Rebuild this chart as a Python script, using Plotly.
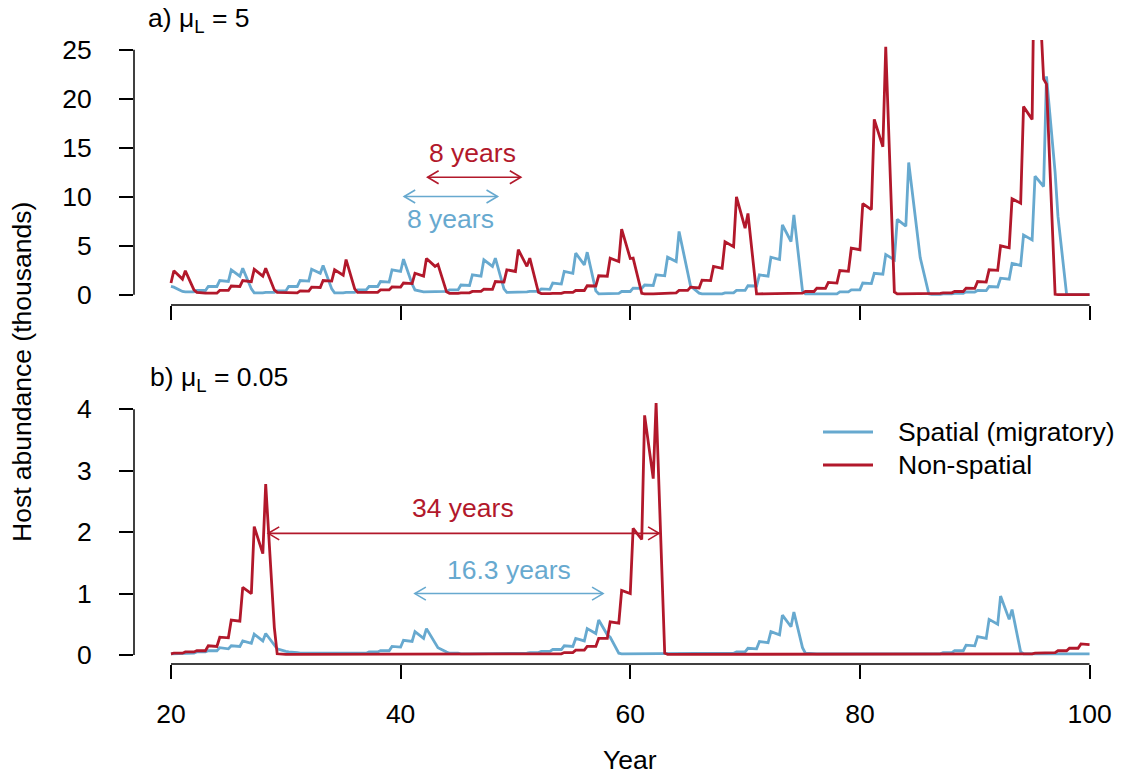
import plotly.graph_objects as go

# ---------------- data ----------------
# seasons (years); each season holds two samples: just after the
# reproduction pulse (year + PEAK_PHASE) and at the end of the year (year + 1)
years = list(range(20, 100))
PEAK_PHASE = 0.25
START_YEAR = 20.0

# panel a (mu_L = 5), thousands of hosts
red_a_init = 1.2
red_a = [
    (2.45, 1.6), (2.45, 0.5), (0.25, 0.17), (0.17, 0.17), (0.45, 0.45),
    (0.9, 0.85), (1.46, 1.35), (2.6, 1.9), (2.7, 0.5), (0.25, 0.2),
    (0.2, 0.2), (0.4, 0.38), (0.78, 0.75), (1.46, 1.4), (2.55, 2.0),
    (3.6, 0.6), (0.25, 0.2), (0.25, 0.25), (0.5, 0.5), (0.8, 0.78),
    (1.2, 1.15), (2.2, 1.9), (3.7, 2.9), (3.1, 0.3), (0.15, 0.15),
    (0.2, 0.2), (0.35, 0.35), (0.58, 0.55), (1.36, 1.3), (2.55, 2.38),
    (4.6, 2.9), (3.74, 0.25), (0.12, 0.12), (0.15, 0.15), (0.25, 0.25),
    (0.44, 0.44), (0.92, 0.9), (1.94, 1.9), (3.74, 3.4), (6.7, 3.7),
    (3.74, 0.15), (0.1, 0.1), (0.12, 0.12), (0.2, 0.2), (0.45, 0.45),
    (0.78, 0.7), (1.5, 1.45), (2.9, 2.7), (5.4, 4.9), (10.0, 6.8),
    (8.3, 0.1), (0.1, 0.1), (0.1, 0.1), (0.12, 0.12), (0.17, 0.17),
    (0.34, 0.34), (0.68, 0.65), (1.26, 1.2), (2.48, 2.4), (4.76, 4.6),
    (9.3, 8.7), (17.9, 15.1), (25.3, 0.3), (0.1, 0.1), (0.1, 0.1),
    (0.12, 0.12), (0.15, 0.15), (0.2, 0.2), (0.34, 0.34), (0.68, 0.65),
    (1.36, 1.3), (2.55, 2.5), (5.0, 4.8), (9.8, 9.35), (19.2, 17.9),
    (40.0, 22.0), (21.5, 0.05), (0.02, 0.02), (0.02, 0.02), (0.02, 0.02),
]
blue_a_init = 0.85
blue_a = [
    (0.78, 0.34), (0.3, 0.3), (0.44, 0.44), (0.85, 0.85), (1.46, 1.36),
    (2.55, 1.9), (2.7, 0.6), (0.2, 0.2), (0.25, 0.25), (0.4, 0.4),
    (0.85, 0.85), (1.46, 1.4), (2.6, 2.2), (3.0, 0.6), (0.2, 0.2),
    (0.25, 0.25), (0.5, 0.5), (0.85, 0.85), (1.36, 1.3), (2.55, 2.38),
    (3.64, 1.1), (0.5, 0.3), (0.3, 0.3), (0.35, 0.35), (0.5, 0.5),
    (1.0, 0.95), (2.04, 1.9), (3.57, 2.9), (3.74, 0.6), (0.25, 0.25),
    (0.3, 0.3), (0.35, 0.35), (0.6, 0.55), (1.2, 1.1), (2.38, 2.2),
    (4.25, 3.06), (4.35, 0.4), (0.1, 0.1), (0.15, 0.15), (0.34, 0.34),
    (0.68, 0.65), (1.0, 0.95), (2.04, 1.94), (3.84, 3.4), (6.46, 2.2),
    (0.9, 0.17), (0.1, 0.1), (0.1, 0.1), (0.2, 0.2), (0.45, 0.45),
    (0.92, 0.9), (2.04, 1.9), (3.84, 3.6), (7.14, 5.44), (8.16, 0.4),
    (0.1, 0.1), (0.05, 0.05), (0.1, 0.1), (0.3, 0.3), (0.5, 0.5),
    (1.2, 1.15), (2.2, 2.1), (4.1, 3.57), (7.7, 7.0), (13.5, 6.6),
    (3.8, 0.1), (0.05, 0.05), (0.1, 0.1), (0.15, 0.15), (0.3, 0.28),
    (0.44, 0.42), (0.85, 0.8), (1.7, 1.6), (3.2, 3.0), (6.1, 5.6),
    (12.1, 11.05), (22.3, 12.5), (8.0, 0.05), (0.02, 0.02), (0.02, 0.02),
]

# panel b (mu_L = 0.05)
red_b_init = 0.02
red_b = [
    (0.03, 0.03), (0.05, 0.05), (0.07, 0.07), (0.15, 0.14), (0.29, 0.28),
    (0.57, 0.55), (1.1, 1.0), (2.09, 1.65), (2.78, 0.45), (0.02, 0.01),
    (0.01, 0.01), (0.01, 0.01), (0.01, 0.01), (0.01, 0.01), (0.01, 0.01),
    (0.01, 0.01), (0.01, 0.01), (0.01, 0.01), (0.01, 0.01), (0.01, 0.01),
    (0.01, 0.01), (0.01, 0.01), (0.01, 0.01), (0.01, 0.01), (0.01, 0.01),
    (0.01, 0.01), (0.01, 0.01), (0.01, 0.01), (0.01, 0.01), (0.01, 0.01),
    (0.01, 0.01), (0.01, 0.01), (0.01, 0.01), (0.02, 0.02), (0.04, 0.04),
    (0.08, 0.08), (0.14, 0.14), (0.27, 0.27), (0.54, 0.52), (1.05, 1.0),
    (2.06, 1.88), (3.9, 2.87), (4.1, 0.03), (0.01, 0.01), (0.01, 0.01),
    (0.01, 0.01), (0.01, 0.01), (0.01, 0.01), (0.01, 0.01), (0.01, 0.01),
    (0.01, 0.01), (0.01, 0.01), (0.01, 0.01), (0.01, 0.01), (0.01, 0.01),
    (0.01, 0.01), (0.01, 0.01), (0.01, 0.01), (0.01, 0.01), (0.01, 0.01),
    (0.01, 0.01), (0.01, 0.01), (0.01, 0.01), (0.01, 0.01), (0.01, 0.01),
    (0.01, 0.01), (0.01, 0.01), (0.01, 0.01), (0.01, 0.01), (0.01, 0.01),
    (0.01, 0.01), (0.01, 0.01), (0.01, 0.01), (0.01, 0.01), (0.02, 0.02),
    (0.03, 0.03), (0.04, 0.04), (0.07, 0.07), (0.11, 0.11), (0.18, 0.17),
]
blue_b_init = 0.02
blue_b = [
    (0.02, 0.02), (0.03, 0.03), (0.05, 0.05), (0.07, 0.07), (0.12, 0.1),
    (0.15, 0.14), (0.23, 0.19), (0.34, 0.23), (0.35, 0.16), (0.1, 0.06),
    (0.05, 0.04), (0.03, 0.03), (0.03, 0.03), (0.03, 0.03), (0.03, 0.03),
    (0.03, 0.03), (0.03, 0.03), (0.05, 0.05), (0.07, 0.07), (0.14, 0.13),
    (0.24, 0.22), (0.38, 0.27), (0.43, 0.19), (0.12, 0.05), (0.03, 0.03),
    (0.02, 0.02), (0.02, 0.02), (0.02, 0.02), (0.02, 0.02), (0.03, 0.03),
    (0.03, 0.03), (0.04, 0.04), (0.06, 0.06), (0.09, 0.09), (0.15, 0.14),
    (0.27, 0.23), (0.43, 0.35), (0.57, 0.33), (0.29, 0.03), (0.02, 0.02),
    (0.02, 0.02), (0.02, 0.02), (0.02, 0.02), (0.02, 0.02), (0.02, 0.02),
    (0.02, 0.02), (0.02, 0.02), (0.02, 0.02), (0.03, 0.03), (0.05, 0.05),
    (0.11, 0.1), (0.22, 0.2), (0.38, 0.33), (0.65, 0.46), (0.7, 0.12),
    (0.03, 0.02), (0.02, 0.02), (0.02, 0.02), (0.02, 0.02), (0.02, 0.02),
    (0.02, 0.02), (0.02, 0.02), (0.02, 0.02), (0.02, 0.02), (0.02, 0.02),
    (0.02, 0.02), (0.02, 0.02), (0.04, 0.04), (0.07, 0.07), (0.16, 0.15),
    (0.3, 0.27), (0.58, 0.5), (0.96, 0.58), (0.74, 0.05), (0.02, 0.02),
    (0.02, 0.02), (0.02, 0.02), (0.02, 0.02), (0.02, 0.02), (0.02, 0.02),
]

# period annotations: (series, from year, to year, height, label, label year, label height)
arrows_a = [
    ("red", 42.35, 50.47, 12.0, "8 years", 46.3, 14.45),
    ("blue", 40.31, 48.44, 10.03, "8 years", 44.33, 7.7),
]
arrows_b = [
    ("red", 28.47, 62.51, 1.98, "34 years", 45.45, 2.39),
    ("blue", 41.24, 57.63, 1.0, "16.3 years", 49.44, 1.38),
]

x_ticks = [20, 40, 60, 80, 100]
y_ticks_a = [0, 5, 10, 15, 20, 25]
y_ticks_b = [0, 1, 2, 3, 4]

series_names = {"blue": "Spatial (migratory)", "red": "Non-spatial"}

# ---------------- style ----------------
W, H = 1124, 775
COL = {"red": "#B2182B", "blue": "#67A9CF"}
FONT = "Liberation Sans, Arial, Helvetica, sans-serif"
FS = 26.5
LW = 2.8


def build(init, pairs):
    t, v = [START_YEAR], [init]
    for y, (s, e) in zip(years, pairs):
        t += [y + PEAK_PHASE, y + 1]
        v += [s, e]
    return t, v


def px_x(px):
    return px / W


def py_y(py):
    return 1 - py / H


fig = go.Figure()
for key, init, pairs, xa, ya in [
    ("blue", blue_a_init, blue_a, "x", "y"),
    ("red", red_a_init, red_a, "x", "y"),
    ("blue", blue_b_init, blue_b, "x2", "y2"),
    ("red", red_b_init, red_b, "x2", "y2"),
]:
    t, v = build(init, pairs)
    fig.add_trace(go.Scatter(x=t, y=v, mode="lines", xaxis=xa, yaxis=ya,
                             name=series_names[key], showlegend=False,
                             line=dict(color=COL[key], width=LW)))

x_dom = [134 / W, 1.0]
x_range = [16.78, 103.0]
axis_common = dict(showgrid=False, zeroline=False, showline=False,
                   ticks="outside", ticklen=14, tickwidth=1.5, tickcolor="black",
                   tickfont=dict(family=FONT, size=FS, color="black"),
                   automargin=False)

fig.update_layout(
    width=W, height=H,
    margin=dict(l=0, r=0, t=0, b=0),
    paper_bgcolor="white", plot_bgcolor="white",
    showlegend=False,
    xaxis=dict(domain=x_dom, range=x_range, anchor="y", tickvals=x_ticks,
               showticklabels=False, **axis_common),
    yaxis=dict(domain=[py_y(305), py_y(40)], range=[-1.04, 26.0], anchor="x",
               tickvals=y_ticks_a, ticklabelstandoff=22, **axis_common),
    xaxis2=dict(domain=x_dom, range=x_range, anchor="y2", tickvals=x_ticks,
                ticklabelstandoff=12, **axis_common),
    yaxis2=dict(domain=[py_y(664), py_y(392)], range=[-0.146, 4.28], anchor="x2",
                tickvals=y_ticks_b, ticklabelstandoff=22, **axis_common),
)

shapes = []
annotations = []
AXW = 1.5
for xr, yr, ymax in [("x", "y", y_ticks_a[-1]), ("x2", "y2", y_ticks_b[-1])]:
    shapes.append(dict(type="line", xref=xr, yref=yr + " domain", x0=x_ticks[0],
                       x1=x_ticks[-1], y0=0, y1=0, line=dict(color="black", width=AXW)))
    shapes.append(dict(type="line", xref=xr + " domain", yref=yr, x0=0, x1=0,
                       y0=y_ticks_a[0], y1=ymax, line=dict(color="black", width=AXW)))

HEAD_L, HEAD_W = 11, 6.5
for xr, yr, arrows in [("x", "y", arrows_a), ("x2", "y2", arrows_b)]:
    for key, x0, x1, yv, label, lx, ly in arrows:
        c = COL[key]
        shapes.append(dict(type="line", xref=xr, yref=yr, x0=x0, x1=x1, y0=yv, y1=yv,
                           line=dict(color=c, width=1.6)))
        for tip, sgn in [(x0, 1), (x1, -1)]:
            shapes.append(dict(type="path", xref=xr, yref=yr, xsizemode="pixel",
                               ysizemode="pixel", xanchor=tip, yanchor=yv,
                               path=f"M {sgn*HEAD_L},{HEAD_W} L 0,0 L {sgn*HEAD_L},{-HEAD_W}",
                               line=dict(color=c, width=1.6)))
        annotations.append(dict(x=lx, y=ly, xref=xr, yref=yr, text=label, showarrow=False,
                                font=dict(family=FONT, size=FS, color=c),
                                xanchor="center", yanchor="middle"))

# legend (drawn by hand to match the original layout)
for key, py in [("blue", 432), ("red", 465)]:
    shapes.append(dict(type="line", xref="paper", yref="paper", x0=px_x(823), x1=px_x(873),
                       y0=py_y(py), y1=py_y(py), line=dict(color=COL[key], width=LW)))
    annotations.append(dict(x=px_x(896), y=py_y(py), xref="paper", yref="paper",
                            text=series_names[key], showarrow=False, xanchor="left",
                            yanchor="middle", font=dict(family=FONT, size=FS, color="black")))

# panel titles and axis titles
annotations += [
    dict(x=px_x(146), y=py_y(20), xref="paper", yref="paper",
         text="a) \u03bc<sub>L</sub> = 5", showarrow=False, xanchor="left", yanchor="middle",
         font=dict(family=FONT, size=FS, color="black")),
    dict(x=px_x(148), y=py_y(379), xref="paper", yref="paper",
         text="b) \u03bc<sub>L</sub> = 0.05", showarrow=False, xanchor="left", yanchor="middle",
         font=dict(family=FONT, size=FS, color="black")),
    dict(x=px_x(630), y=py_y(760), xref="paper", yref="paper", text="Year",
         showarrow=False, xanchor="center", yanchor="middle",
         font=dict(family=FONT, size=FS, color="black")),
    dict(x=px_x(22), y=py_y(372), xref="paper", yref="paper",
         text="Host abundance (thousands)", textangle=-90, showarrow=False,
         xanchor="center", yanchor="middle",
         font=dict(family=FONT, size=FS, color="black")),
]

fig.update_layout(shapes=shapes, annotations=annotations)
# remove the browser's default 8px page margin so the figure fills the window
fig.write_html("out.html", config={"displayModeBar": False},
               post_script="document.body.style.margin='0';")
